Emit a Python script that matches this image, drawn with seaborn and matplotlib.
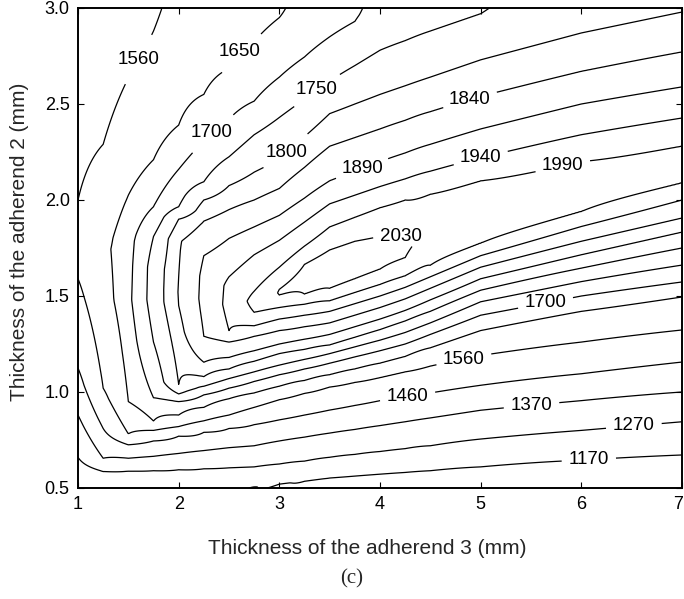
import numpy as np
import matplotlib
matplotlib.use("Agg")
import matplotlib.pyplot as plt
import matplotlib.transforms as mtransforms
import seaborn as sns

# Contour levels of the joint strength
levels = [1170, 1270, 1370, 1460, 1560, 1650, 1700, 1750, 1800, 1840, 1890, 1940, 1990, 2030]

# Thickness of adherend 3 (mm) at which strength profiles were taken
t3_cols = [1.0, 1.25, 1.5, 1.75, 2.0, 2.25, 2.5, 2.75, 3.0, 3.25, 3.5, 3.75,
           4.0, 4.25, 4.5, 5.0, 6.0, 7.0]

# Adherend-2 thickness used to align neighbouring profiles (follows the strength ridge)
ridge_t2 = [1.60, 1.58, 1.56, 1.55, 1.53, 1.50, 1.48, 1.47, 1.52, 1.58, 1.64, 1.685,
            1.73, 1.76, 1.84, 1.93, 2.07, 2.185]

# Strength profiles along the adherend-2 thickness: t2 (mm) and strength
profile_t2 = [
    [0.5, 0.66, 0.88, 1.125, 1.59, 1.8, 2.0, 2.5, 3.0],
    [0.5, 0.586, 0.655, 0.81, 1.02, 1.48, 1.75, 2.0, 2.29, 3.0],
    [0.5, 0.588, 0.655, 0.725, 0.782, 0.95, 1.2, 1.48, 1.79, 2.025, 2.635, 3.0],
    [0.5, 0.59, 0.665, 0.745, 0.80, 0.849, 0.97, 1.26, 1.48, 1.65, 1.81, 1.965, 2.21, 2.88, 3.0],
    [0.5, 0.595, 0.68, 0.77, 0.82, 0.88, 0.95, 0.99, 1.04, 1.25, 1.45, 1.52, 1.6, 1.79, 1.90, 1.965, 2.16, 2.39, 3.0],
    [0.5, 0.60, 0.695, 0.79, 0.85, 0.92, 0.985, 1.03, 1.08, 1.155, 1.29, 1.48, 1.6, 1.71, 1.89, 2.0, 2.095, 2.31, 2.55, 3.0],
    [0.5, 0.605, 0.71, 0.81, 0.88, 0.965, 1.02, 1.07, 1.12, 1.18, 1.26, 1.32, 1.45, 1.55, 1.6, 1.80, 1.95, 2.075, 2.225, 2.42, 2.685, 3.0],
    [0.5, 0.506, 0.61, 0.72, 0.83, 0.92, 0.995, 1.055, 1.105, 1.16, 1.215, 1.29, 1.345, 1.415, 1.47, 1.525, 1.715, 1.86, 2.0, 2.145, 2.34, 2.515, 2.825, 3.0],
    [0.5, 0.52, 0.625, 0.745, 0.855, 0.96, 1.03, 1.09, 1.14, 1.20, 1.25, 1.32, 1.38, 1.44, 1.505, 1.52, 1.535, 1.65, 1.79, 1.92, 2.06, 2.21, 2.43, 2.64, 2.95, 3.0],
    [0.5, 0.535, 0.64, 0.765, 0.88, 0.993, 1.06, 1.12, 1.17, 1.222, 1.275, 1.34, 1.40, 1.457, 1.51, 1.58, 1.665, 1.76, 1.885, 2.01, 2.17, 2.33, 2.525, 2.745, 3.0],
    [0.5, 0.552, 0.66, 0.786, 0.906, 1.026, 1.09, 1.15, 1.20, 1.245, 1.30, 1.36, 1.42, 1.475, 1.54, 1.64, 1.74, 1.86, 1.98, 2.10, 2.28, 2.45, 2.62, 2.85, 3.0],
    [0.5, 0.562, 0.675, 0.805, 0.93, 1.05, 1.12, 1.183, 1.235, 1.285, 1.34, 1.40, 1.46, 1.518, 1.59, 1.685, 1.785, 1.91, 2.025, 2.15, 2.325, 2.50, 2.70, 2.93, 3.0],
    [0.5, 0.572, 0.69, 0.825, 0.955, 1.075, 1.15, 1.215, 1.27, 1.325, 1.38, 1.44, 1.50, 1.56, 1.64, 1.73, 1.81, 1.96, 2.07, 2.20, 2.37, 2.55, 2.78, 3.0],
    [0.5, 0.581, 0.705, 0.845, 0.975, 1.105, 1.185, 1.25, 1.31, 1.37, 1.425, 1.485, 1.545, 1.605, 1.70, 1.76, 1.81, 2.0, 2.11, 2.245, 2.415, 2.595, 2.83, 3.0],
    [0.5, 0.59, 0.72, 0.865, 0.995, 1.135, 1.23, 1.30, 1.36, 1.42, 1.48, 1.54, 1.60, 1.66, 1.84, 2.03, 2.15, 2.29, 2.46, 2.64, 2.88, 3.0],
    [0.5, 0.61, 0.755, 0.905, 1.035, 1.19, 1.32, 1.40, 1.47, 1.53, 1.59, 1.65, 1.71, 1.775, 1.93, 2.10, 2.22, 2.37, 2.54, 2.73, 2.97, 3.0],
    [0.5, 0.645, 0.80, 0.955, 1.095, 1.26, 1.42, 1.50, 1.575, 1.645, 1.715, 1.785, 1.862, 1.94, 2.07, 2.20, 2.34, 2.50, 2.67, 2.87, 3.0],
    [0.5, 0.672, 0.845, 1.0, 1.156, 1.323, 1.495, 1.573, 1.661, 1.75, 1.833, 1.906, 2.0, 2.089, 2.185, 2.281, 2.427, 2.589, 2.771, 2.979, 3.0],
]
profile_strength = [
    [1200, 1270, 1370, 1460, 1560, 1600, 1560, 1515, 1470],
    [1195, 1270, 1370, 1460, 1560, 1621, 1635, 1610, 1560, 1480],
    [1192, 1270, 1370, 1460, 1560, 1650, 1670, 1689, 1683, 1650, 1560, 1505],
    [1190, 1270, 1370, 1460, 1560, 1650, 1700, 1750, 1772, 1770, 1750, 1700, 1650, 1560, 1545],
    [1188, 1270, 1370, 1460, 1560, 1650, 1700, 1750, 1800, 1818, 1840, 1842, 1840, 1835, 1800, 1750, 1700, 1650, 1590],
    [1185, 1270, 1370, 1460, 1560, 1650, 1700, 1750, 1800, 1840, 1890, 1902, 1900, 1890, 1840, 1800, 1750, 1700, 1650, 1605],
    [1178, 1270, 1370, 1460, 1560, 1650, 1700, 1750, 1800, 1840, 1890, 1940, 1953, 1950, 1940, 1890, 1840, 1800, 1750, 1700, 1650, 1625],
    [1166, 1170, 1270, 1370, 1460, 1560, 1650, 1700, 1750, 1800, 1840, 1890, 1940, 1990, 2005, 1990, 1940, 1890, 1840, 1800, 1750, 1700, 1650, 1630],
    [1150, 1170, 1270, 1370, 1460, 1560, 1650, 1700, 1750, 1800, 1840, 1890, 1940, 1990, 2030, 2032, 2030, 1990, 1940, 1890, 1840, 1800, 1750, 1700, 1650, 1645],
    [1137, 1170, 1270, 1370, 1460, 1560, 1650, 1700, 1750, 1800, 1840, 1890, 1940, 1990, 2030, 2045, 2030, 1990, 1940, 1890, 1840, 1800, 1750, 1700, 1660],
    [1125, 1170, 1270, 1370, 1460, 1560, 1650, 1700, 1750, 1800, 1840, 1890, 1940, 1990, 2030, 2055, 2030, 1990, 1940, 1890, 1840, 1800, 1750, 1700, 1675],
    [1117, 1170, 1270, 1370, 1460, 1560, 1650, 1700, 1750, 1800, 1840, 1890, 1940, 1990, 2030, 2055, 2030, 1990, 1940, 1890, 1840, 1800, 1750, 1700, 1692],
    [1110, 1170, 1270, 1370, 1460, 1560, 1650, 1700, 1750, 1800, 1840, 1890, 1940, 1990, 2030, 2048, 2030, 1990, 1940, 1890, 1840, 1800, 1750, 1714],
    [1105, 1170, 1270, 1370, 1460, 1560, 1650, 1700, 1750, 1800, 1840, 1890, 1940, 1990, 2030, 2036, 2030, 1990, 1940, 1890, 1840, 1800, 1750, 1722],
    [1100, 1170, 1270, 1370, 1460, 1560, 1650, 1700, 1750, 1800, 1840, 1890, 1940, 1990, 2025, 1990, 1940, 1890, 1840, 1800, 1750, 1730],
    [1090, 1170, 1270, 1370, 1460, 1560, 1650, 1700, 1750, 1800, 1840, 1890, 1940, 1990, 2018, 1990, 1940, 1890, 1840, 1800, 1750, 1746],
    [1080, 1170, 1270, 1370, 1460, 1560, 1650, 1700, 1750, 1800, 1840, 1890, 1940, 1990, 2012, 1990, 1940, 1890, 1840, 1800, 1775],
    [1070, 1170, 1270, 1370, 1460, 1560, 1650, 1700, 1750, 1800, 1840, 1890, 1940, 1990, 2008, 1990, 1940, 1890, 1840, 1800, 1796],
]

# Where each contour value is written
label_spots = [
    (1.646, 2.719), (2.599, 2.776), (2.361, 2.333), (3.414, 2.542),
    (3.086, 2.240), (4.904, 2.505), (3.841, 2.135), (5.003, 2.214),
    (5.818, 2.172), (4.209, 1.840), (5.639, 1.479), (4.824, 1.193),
    (4.268, 1.000), (5.500, 0.960), (6.523, 0.815), (6.076, 0.635),
]

x_ticks = [1, 2, 3, 4, 5, 6, 7]
y_ticks = [0.5, 1.0, 1.5, 2.0, 2.5, 3.0]

# Strength surface: neighbouring profiles are blended with their ridges aligned
t2_fine = np.linspace(0.5, 3.0, 501)
t3_fine = np.linspace(1.0, 7.0, 601)
Z = np.empty((t2_fine.size, t3_fine.size))
for i, x in enumerate(t3_fine):
    k = min(int(np.searchsorted(t3_cols, x, side="right")) - 1, len(t3_cols) - 2)
    w = (x - t3_cols[k]) / (t3_cols[k + 1] - t3_cols[k])
    ridge = (1 - w) * ridge_t2[k] + w * ridge_t2[k + 1]
    off = t2_fine - ridge
    za = np.interp(ridge_t2[k] + off, profile_t2[k], profile_strength[k])
    zb = np.interp(ridge_t2[k + 1] + off, profile_t2[k + 1], profile_strength[k + 1])
    Z[:, i] = (1 - w) * za + w * zb
X, Y = np.meshgrid(t3_fine, t2_fine)

sns.set_theme(style="ticks")
plt.rcParams["font.family"] = ["Liberation Sans", "DejaVu Sans"]

fig = plt.figure(figsize=(6.84, 5.99), dpi=100)
ax = fig.add_axes([78 / 684, 1 - 488 / 599, 604 / 684, 480 / 599])

cs = ax.contour(X, Y, Z, levels=levels, colors="black", linewidths=0.9)
texts = ax.clabel(cs, manual=label_spots, inline=True, fmt="%d",
                  fontsize=13.5, inline_spacing=7)
for t in texts:
    t.set_rotation(0)

ax.set_xlim(1, 7)
ax.set_ylim(0.5, 3.0)
ax.set_xticks(x_ticks)
ax.set_xticklabels([str(v) for v in x_ticks])
ax.set_yticks(y_ticks)
ax.set_yticklabels([f"{v:.1f}" for v in y_ticks])
ax.tick_params(direction="in", length=4, width=0.8, top=True, right=True,
               labelsize=13, colors="black", pad=6)
for sp in ax.spines.values():
    sp.set_linewidth(1.4)
    sp.set_color("black")

# keep the last x tick label inside the canvas
last = ax.get_xticklabels()[-1]
last.set_transform(last.get_transform() +
                   mtransforms.ScaledTranslation(-4 / 100, 0, fig.dpi_scale_trans))

ax.set_xlabel("Thickness of the adherend 3 (mm)", fontsize=15)
ax.set_ylabel("Thickness of the adherend 2 (mm)", fontsize=15)
ax.xaxis.set_label_coords((367 - 78) / 604, (488 - 539) / 480)
ax.yaxis.set_label_coords((29 - 78) / 604, (488 - 242) / 480)

fig.text(352 / 684, 1 - 579 / 599, "(c)", ha="center", va="center",
         fontsize=15, family=["Liberation Serif", "DejaVu Serif"])

fig.savefig("out.png", dpi=100)
